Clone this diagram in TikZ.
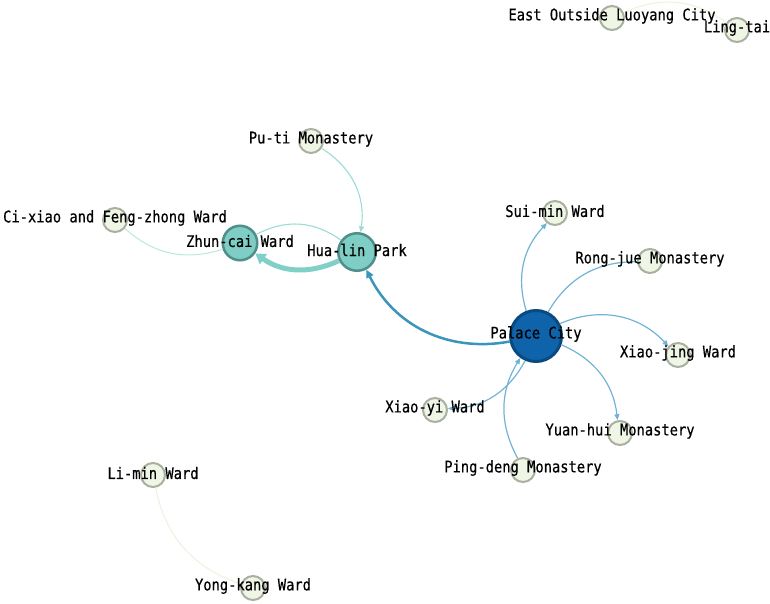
\documentclass[tikz,border=0pt]{standalone}
\usepackage{fontspec}
\newfontfamily\lblfont[FakeStretch=0.86,FakeBold=0.4]{DejaVu Sans Mono}
\usetikzlibrary{arrows.meta}
\definecolor{pcfill}{HTML}{0E63AB}
\definecolor{pcline}{HTML}{0B4A7E}
\definecolor{tealfill}{HTML}{7FCEC6}
\definecolor{tealline}{HTML}{4F8E89}
\definecolor{smfill}{HTML}{EFF6E6}
\definecolor{smline}{HTML}{AAAFA0}
\definecolor{bluethick}{HTML}{3A95BB}
\definecolor{bluethin}{HTML}{71B3D6}
\definecolor{tealthick}{HTML}{80D0C8}
\definecolor{tealthin}{HTML}{9DDCD4}
\definecolor{teallight}{HTML}{B9E7E0}
\definecolor{palegreen}{HTML}{EAF3DC}
\tikzset{
  bignode/.style={circle,inner sep=0pt,draw=pcline,fill=pcfill,line width=3pt,minimum size=51pt},
  midnode/.style={circle,inner sep=0pt,draw=tealline,fill=tealfill,line width=2.5pt,minimum size=#1},
  smnode/.style={circle,inner sep=0pt,draw=smline,fill=smfill,line width=2pt,minimum size=24pt},
  lbl/.style={font=\lblfont\fontsize{16}{17}\selectfont,inner sep=0pt,text=black,yshift=2pt},
  thinblue/.style={draw=bluethin,line width=1.2pt,-{Triangle[length=6pt,width=5pt]}},
  thinteal/.style={draw=tealthin,line width=1.1pt},
}
\begin{document}
\begin{tikzpicture}[x=1pt,y=1pt]
\useasboundingbox (0,0) rectangle (770,603);
% nodes (circles)
\node[bignode] (pc) at (536,267) {};
\node[midnode=37.5pt] (hl) at (357,351) {};
\node[midnode=34.5pt] (zc) at (240,360) {};
\node[smnode] (pt) at (311,462) {};
\node[smnode] (cx) at (115,383) {};
\node[smnode] (sm) at (555,390) {};
\node[smnode] (rj) at (650,342) {};
\node[smnode] (xj) at (678,248) {};
\node[smnode] (xy) at (435,193) {};
\node[smnode] (yh) at (620,170) {};
\node[smnode] (pd) at (523,133) {};
\node[smnode] (lm) at (153,128) {};
\node[smnode] (yk) at (253,15) {};
\node[smnode] (eo) at (612,585) {};
\node[smnode] (lt) at (737,573) {};
% edges
\draw[draw=bluethick,line width=2.5pt,-{Triangle[length=8pt,width=7.5pt]}] (pc) to[bend left=37] (hl);
\draw[draw=tealthick,line width=5pt,-{Triangle[length=10pt,width=12pt]}] (hl) to[bend left=30] (zc);
\draw[thinteal] (zc) to[bend left=32] (hl);
\draw[thinteal,-{Triangle[length=6pt,width=5pt]}] (pt) to[bend left=33] (hl);
\draw[draw=teallight,line width=1pt] (zc) to[bend left=30] (cx);
\draw[thinblue] (pc) to[bend left=30] (sm);
\draw[draw=bluethin,line width=1.2pt] (pc) to[bend left=30] (rj);
\draw[thinblue] (pc) to[bend left=35] (xj);
\draw[thinblue] (pc) to[bend left=30] (yh);
\draw[thinblue] (pc) to[bend left=30] (xy);
\draw[thinblue] (pd) to[bend left=30] (pc);
\draw[draw=palegreen,line width=1pt] (yk) to[bend left=30] (lm);
\draw[draw=palegreen,line width=1pt] (eo) to[bend left=30] (lt);
% labels
\node[lbl] (pcL) at (pc) {Palace City};
\node[lbl] (hlL) at (hl) {Hua-lin Park};
\node[lbl] (zcL) at (zc) {Zhun-cai Ward};
\node[lbl] (ptL) at (pt) {Pu-ti Monastery};
\node[lbl] (cxL) at (cx) {Ci-xiao and Feng-zhong Ward};
\node[lbl] (smL) at (sm) {Sui-min Ward};
\node[lbl] (rjL) at (rj) {Rong-jue Monastery};
\node[lbl] (xjL) at (xj) {Xiao-jing Ward};
\node[lbl] (xyL) at (xy) {Xiao-yi Ward};
\node[lbl] (yhL) at (yh) {Yuan-hui Monastery};
\node[lbl] (pdL) at (pd) {Ping-deng Monastery};
\node[lbl] (lmL) at (lm) {Li-min Ward};
\node[lbl] (ykL) at (yk) {Yong-kang Ward};
\node[lbl] (eoL) at (eo) {East Outside Luoyang City};
\node[lbl] (ltL) at (lt) {Ling-tai};
\end{tikzpicture}
\end{document}
